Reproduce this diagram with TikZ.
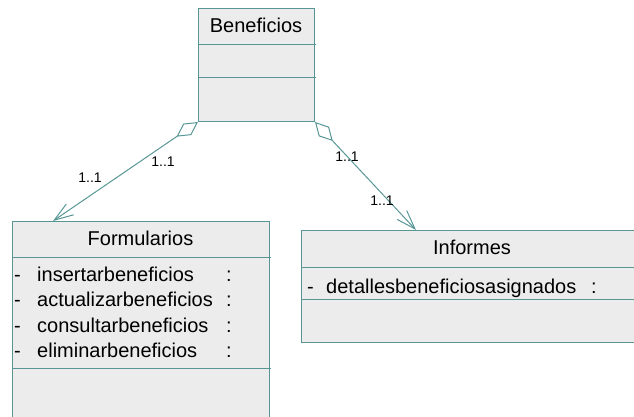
\documentclass[tikz,border=0pt]{standalone}
\usepackage{fontspec}
\setmainfont{Liberation Sans}
\usetikzlibrary{positioning, arrows.meta}
\definecolor{umlline}{RGB}{88,150,150}
\definecolor{umlfill}{RGB}{236,236,236}
\tikzset{
  classbox/.style={draw=umlline, fill=umlfill, line width=1pt, rectangle, anchor=north west, inner sep=0pt},
  ctitle/.style={anchor=base, inner sep=0pt, font=\fontsize{20}{24}\selectfont},
  attr/.style={anchor=base west, inner sep=0pt, font=\fontsize{20}{24}\selectfont},
  mult/.style={inner sep=0pt, font=\fontsize{14}{16}\selectfont},
  sep/.style={umlline, line width=1pt},
  assoc/.style={umlline, line width=1pt, {Diamond[open,length=26pt,width=14pt]}-{Straight Barb[length=19pt,width=13pt]}}
}

\begin{document}
\begin{tikzpicture}[x=1pt,y=-1pt]
\useasboundingbox (0,0) rectangle (634,416);
\clip (0,0) rectangle (634,416);

\node[classbox, minimum width=116pt, minimum height=113pt] (ben) at (198,8) {};
\node[ctitle] (bentitle) at (256,32) {Beneficios};
\draw[sep] (198,44) -- (316,44);
\draw[sep] (198,77) -- (316,77);

\node[classbox, minimum width=257pt, minimum height=220pt] (form) at (12,221) {};
\node[ctitle] (formtitle) at (140.5,245) {Formularios};
\draw[sep] (12,257) -- (271,257);
\draw[sep] (12,368) -- (271,368);
\foreach \n/\t in {1/insertarbeneficios, 2/actualizarbeneficios, 3/consultarbeneficios, 4/eliminarbeneficios}{
  \node[attr] (fdash\n) at (14,{255.5+25.5*\n}) {-};
  \node[attr] (fattr\n) at (37,{255.5+25.5*\n}) {\t};
  \node[attr] (fcol\n) at (226,{255.5+25.5*\n}) {:};
}

\node[classbox, minimum width=342pt, minimum height=112pt] (inf) at (301,230) {};
\node[ctitle] (inftitle) at (472,254) {Informes};
\draw[sep] (301,267) -- (643,267);
\draw[sep] (301,299) -- (643,299);
\node[attr] (idash) at (307,293) {-};
\node[attr] (iattr) at (326,293) {detallesbeneficiosasignados};
\node[attr] (icol) at (591,293) {:};

\coordinate (fin) at (53,221);
\coordinate (iin) at (416,230);
\draw[assoc] (ben.south west) -- (fin);
\draw[assoc] (ben.south east) -- (iin);

\node[mult] (m1) at (163,162) {1..1};
\node[mult] (m2) at (90,178) {1..1};
\node[mult] (m3) at (347,157) {1..1};
\node[mult] (m4) at (382,201) {1..1};
\end{tikzpicture}
\end{document}
